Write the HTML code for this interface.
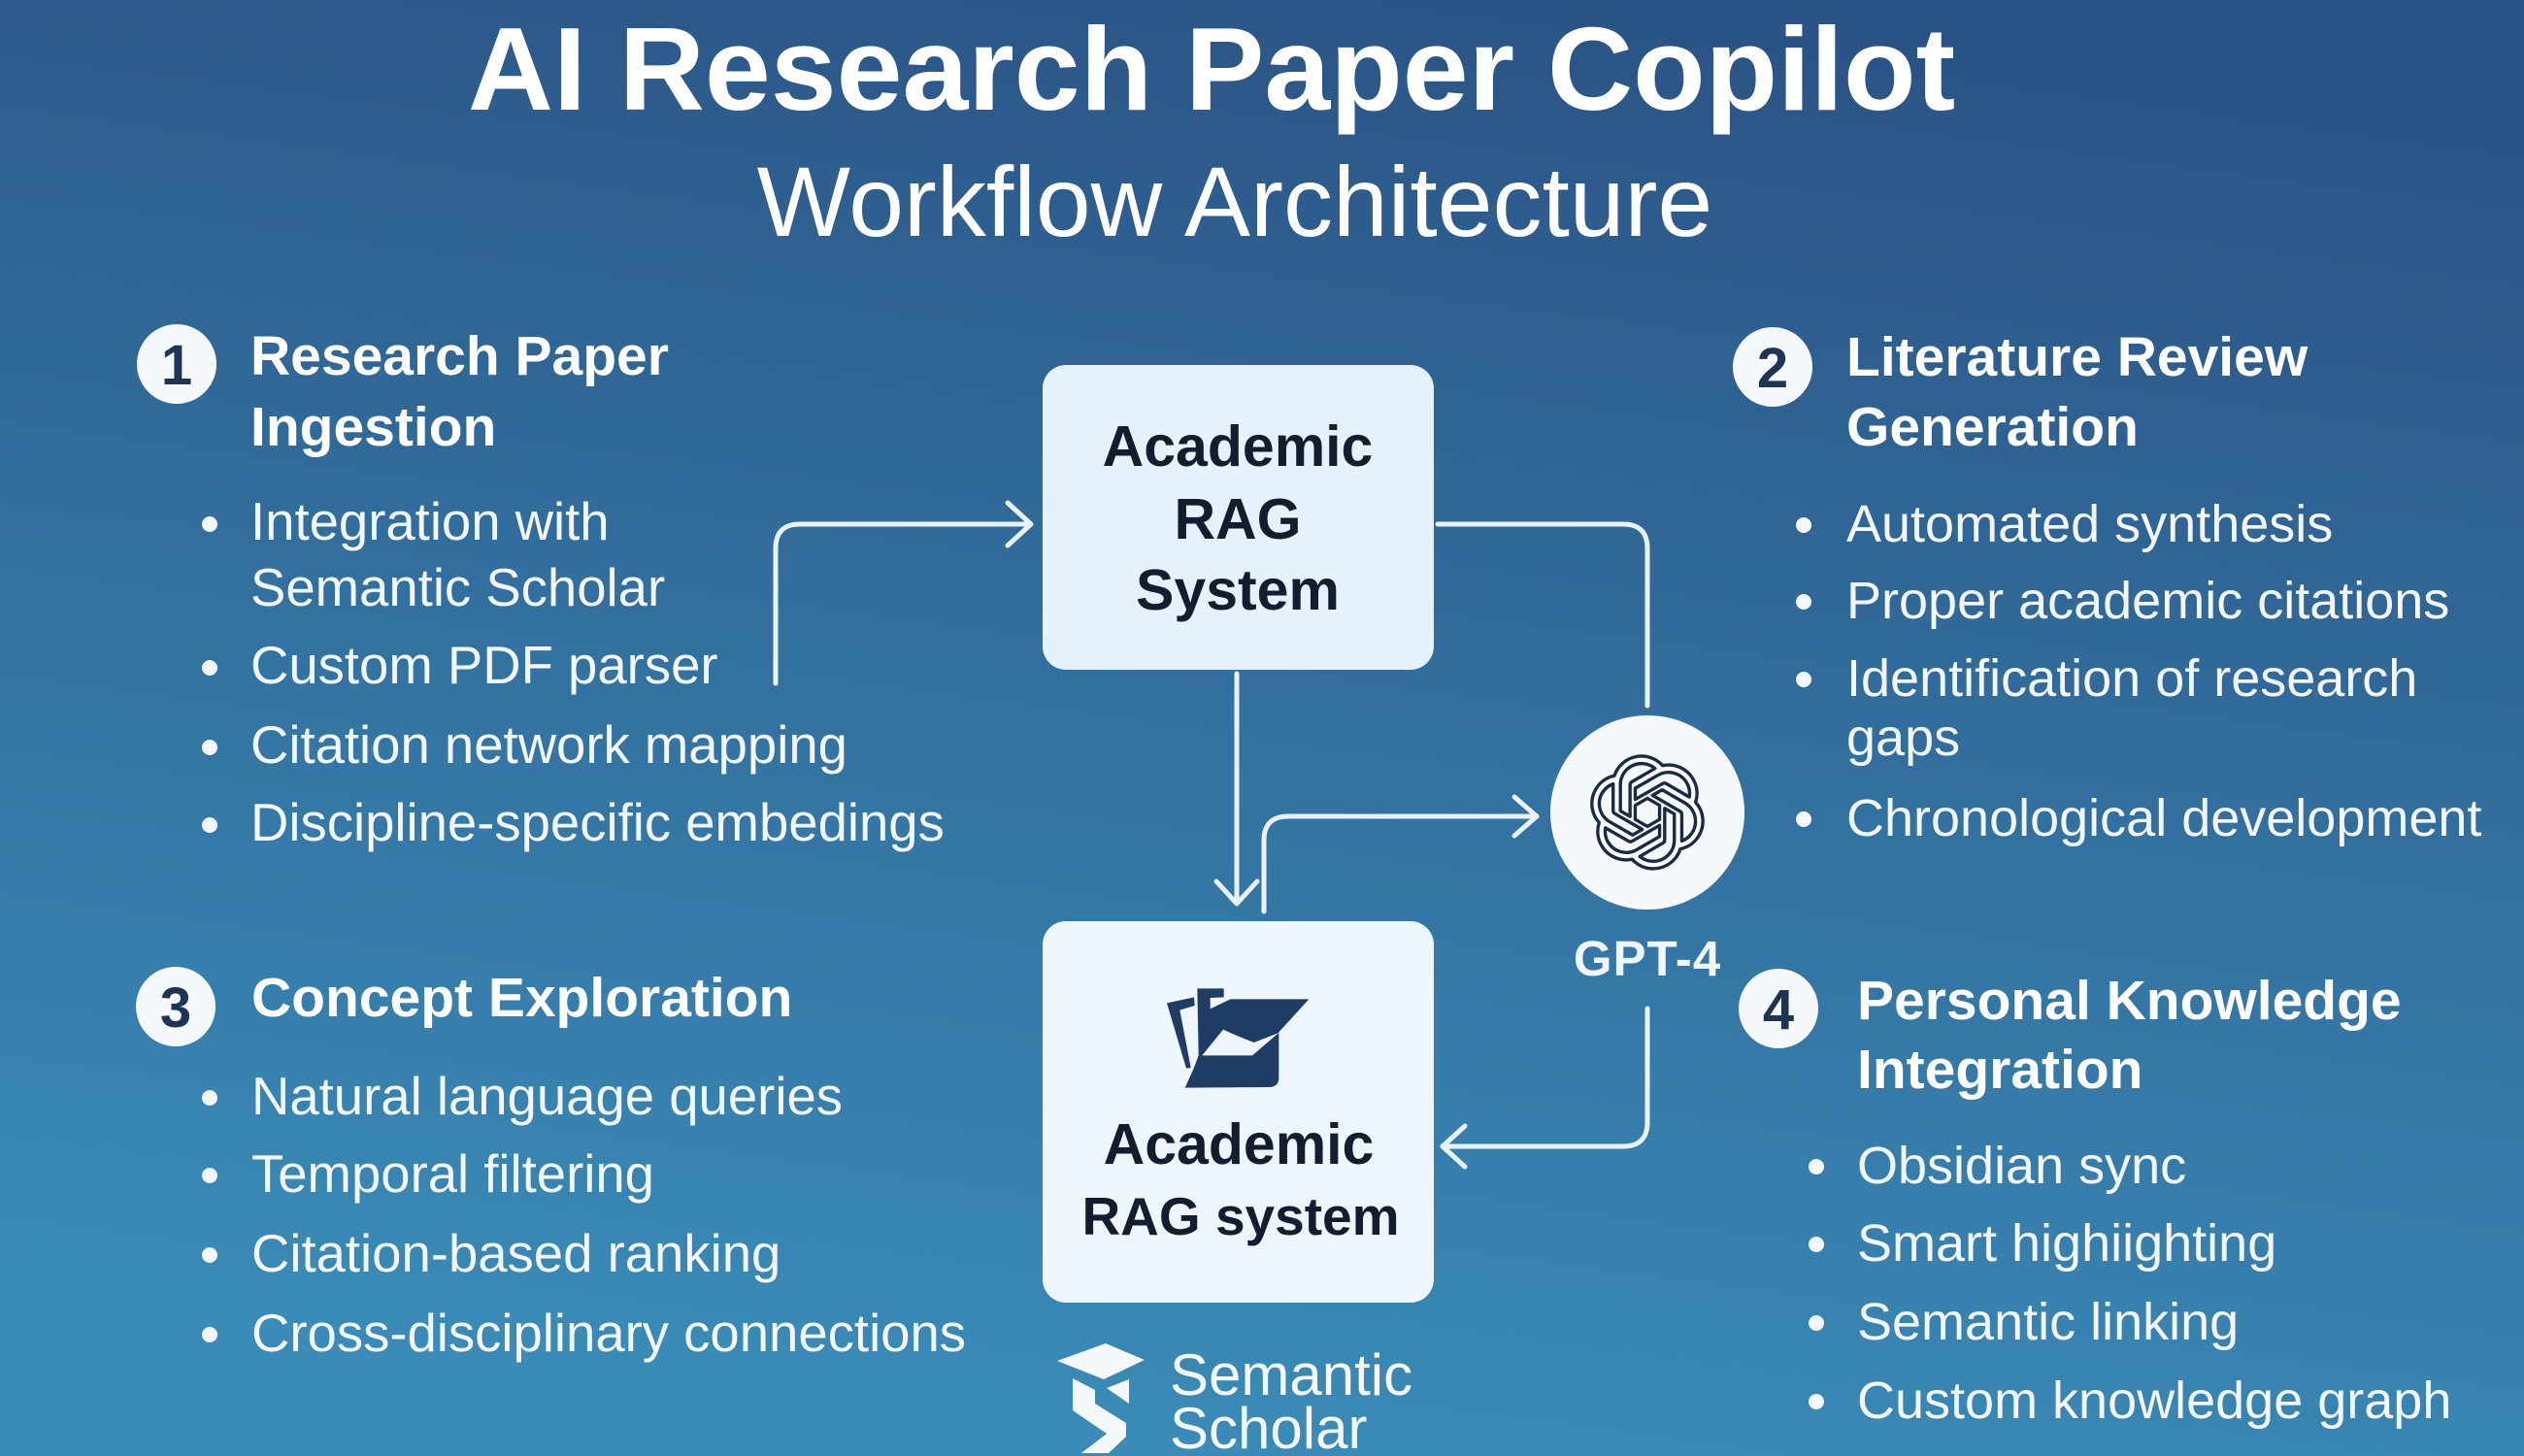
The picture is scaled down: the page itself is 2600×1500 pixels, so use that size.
<!DOCTYPE html>
<html>
<head>
<meta charset="utf-8">
<style>
  html, body { margin: 0; padding: 0; }
  body { width: 2600px; height: 1500px; overflow: hidden; }
  svg { display: block; }
  text { font-family: "Liberation Sans", "DejaVu Sans", sans-serif; }
</style>
</head>
<body>
<svg width="2600" height="1500" viewBox="0 0 2600 1500" xmlns="http://www.w3.org/2000/svg">
  <defs>
    <linearGradient id="bg" gradientUnits="userSpaceOnUse" x1="1500" y1="0" x2="1300" y2="1500">
      <stop offset="0" stop-color="#2b5486"/>
      <stop offset="0.5" stop-color="#32709f"/>
      <stop offset="1" stop-color="#3a8bb7"/>
    </linearGradient>
  </defs>
  <rect x="0" y="0" width="2600" height="1500" fill="url(#bg)"/>

  <!-- Title -->
  <text x="1248" y="113" text-anchor="middle" font-size="122" font-weight="bold" fill="#ffffff">AI Research Paper Copilot</text>
  <text x="1272" y="243" text-anchor="middle" font-size="102" fill="#ffffff">Workflow Architecture</text>

  <!-- Connectors -->
  <g fill="none" stroke="#eaf2f9" stroke-width="5" stroke-linecap="round" stroke-linejoin="round">
    <path d="M799,704 V565 Q799,540 824,540 H1061"/>
    <path d="M1038,518 L1062,540 L1038,562"/>
    <path d="M1481,540 H1672 Q1697,540 1697,565 V727"/>
    <path d="M1274,694 V930"/>
    <path d="M1253,908 L1274,931 L1295,908"/>
    <path d="M1302,939 V866 Q1302,841 1327,841 H1583"/>
    <path d="M1560,821 L1583,841 L1560,861"/>
    <path d="M1697,1039 V1156 Q1697,1181 1672,1181 H1486"/>
    <path d="M1509,1160 L1486,1181 L1509,1202"/>
  </g>

  <!-- Section 1 -->
  <circle cx="182" cy="375" r="41" fill="#f6f9fc"/>
  <text x="182" y="396" text-anchor="middle" font-size="58" font-weight="bold" fill="#1d3455">1</text>
  <g font-size="57" font-weight="bold" fill="#ffffff">
    <text x="258" y="386">Research Paper</text>
    <text x="258" y="459">Ingestion</text>
  </g>
  <g font-size="54.5" fill="#f3f7fb">
    <text x="258" y="556">Integration with</text>
    <text x="258" y="624">Semantic Scholar</text>
    <text x="258" y="704">Custom PDF parser</text>
    <text x="258" y="786">Citation network mapping</text>
    <text x="258" y="866">Discipline-specific embedings</text>
  </g>
  <g fill="#f3f7fb">
    <circle cx="216" cy="540" r="8"/>
    <circle cx="216" cy="688" r="8"/>
    <circle cx="216" cy="770" r="8"/>
    <circle cx="216" cy="850" r="8"/>
  </g>

  <!-- Section 2 -->
  <circle cx="1826" cy="378" r="41" fill="#f6f9fc"/>
  <text x="1826" y="399" text-anchor="middle" font-size="58" font-weight="bold" fill="#1d3455">2</text>
  <g font-size="57" font-weight="bold" fill="#ffffff">
    <text x="1902" y="387">Literature Review</text>
    <text x="1902" y="459">Generation</text>
  </g>
  <g font-size="54" fill="#f3f7fb">
    <text x="1902" y="558">Automated synthesis</text>
    <text x="1902" y="637">Proper academic citations</text>
    <text x="1902" y="717">Identification of research</text>
    <text x="1902" y="778">gaps</text>
    <text x="1902" y="861">Chronological development</text>
  </g>
  <g fill="#f3f7fb">
    <circle cx="1858" cy="541" r="8"/>
    <circle cx="1858" cy="620" r="8"/>
    <circle cx="1858" cy="700" r="8"/>
    <circle cx="1858" cy="844" r="8"/>
  </g>

  <!-- Section 3 -->
  <circle cx="181" cy="1037" r="41" fill="#f6f9fc"/>
  <text x="181" y="1058" text-anchor="middle" font-size="58" font-weight="bold" fill="#1d3455">3</text>
  <text x="259" y="1047" font-size="57" font-weight="bold" fill="#ffffff">Concept Exploration</text>
  <g font-size="54.5" fill="#f3f7fb">
    <text x="259" y="1148">Natural language queries</text>
    <text x="259" y="1228">Temporal filtering</text>
    <text x="259" y="1310">Citation-based ranking</text>
    <text x="259" y="1392">Cross-disciplinary connections</text>
  </g>
  <g fill="#f3f7fb">
    <circle cx="216" cy="1131" r="8"/>
    <circle cx="216" cy="1211" r="8"/>
    <circle cx="216" cy="1293" r="8"/>
    <circle cx="216" cy="1375" r="8"/>
  </g>

  <!-- Section 4 -->
  <circle cx="1832" cy="1039" r="41" fill="#f6f9fc"/>
  <text x="1832" y="1060" text-anchor="middle" font-size="58" font-weight="bold" fill="#1d3455">4</text>
  <g font-size="57" font-weight="bold" fill="#ffffff">
    <text x="1913" y="1050">Personal Knowledge</text>
    <text x="1913" y="1121">Integration</text>
  </g>
  <g font-size="54" fill="#f3f7fb">
    <text x="1913" y="1219">Obsidian sync</text>
    <text x="1913" y="1299">Smart highiighting</text>
    <text x="1913" y="1380">Semantic linking</text>
    <text x="1913" y="1461">Custom knowledge graph</text>
  </g>
  <g fill="#f3f7fb">
    <circle cx="1871" cy="1202" r="8"/>
    <circle cx="1871" cy="1282" r="8"/>
    <circle cx="1871" cy="1363" r="8"/>
    <circle cx="1871" cy="1444" r="8"/>
  </g>

  <!-- Top box -->
  <rect x="1074" y="376" width="403" height="314" rx="24" fill="#e4f2fb"/>
  <g font-size="59" font-weight="bold" fill="#121e30" text-anchor="middle">
    <text x="1275" y="480">Academic</text>
    <text x="1275" y="555">RAG</text>
    <text x="1275" y="628">System</text>
  </g>

  <!-- Bottom box -->
  <rect x="1074" y="949" width="403" height="393" rx="24" fill="#eef5fb"/>
  <g transform="translate(1180,1000) scale(0.3333)" fill="#1f3d64">
    <polygon points="66,100 150,82 152,108 106,122 140,300 126,302"/>
    <path d="M160,55 L242,55 L242,82 L200,84 L200,118 L262,88 L505,88 L412,190 L412,330 Q412,358 385,360 L122,362 L150,300 L164,262 Z"/>
    <path d="M175,262 L240,182 Q290,205 335,222 L412,192 L330,262 Z" fill="#eef5fb"/>
  </g>
  <g font-weight="bold" fill="#121e30" text-anchor="middle">
    <text x="1276" y="1199" font-size="59">Academic</text>
    <text x="1278" y="1272" font-size="55">RAG system</text>
  </g>

  <!-- GPT-4 -->
  <circle cx="1697" cy="837" r="100" fill="#f6f9fc"/>
  <g transform="translate(1639,779) scale(4.83)">
    <path fill="#ffffff" stroke="#1a2a44" stroke-width="0.7" stroke-linejoin="round" d="M22.2819 9.8211a5.9847 5.9847 0 0 0-.5157-4.9108 6.0462 6.0462 0 0 0-6.5098-2.9A6.0651 6.0651 0 0 0 4.9807 4.1818a5.9847 5.9847 0 0 0-3.9977 2.9 6.0462 6.0462 0 0 0 .7427 7.0966 5.98 5.98 0 0 0 .511 4.9107 6.051 6.051 0 0 0 6.5146 2.9001A5.9847 5.9847 0 0 0 13.2599 24a6.0557 6.0557 0 0 0 5.7718-4.2058 5.9894 5.9894 0 0 0 3.9977-2.9001 6.0557 6.0557 0 0 0-.7475-7.0729zm-9.022 12.6081a4.4755 4.4755 0 0 1-2.8764-1.0408l.1419-.0804 4.7783-2.7582a.7948.7948 0 0 0 .3927-.6813v-6.7369l2.02 1.1686a.071.071 0 0 1 .038.052v5.5826a4.504 4.504 0 0 1-4.4945 4.4944zm-9.6607-4.1254a4.4708 4.4708 0 0 1-.5346-3.0137l.142.0852 4.783 2.7582a.7712.7712 0 0 0 .7806 0l5.8428-3.3685v2.3324a.0804.0804 0 0 1-.0332.0615L9.74 19.9502a4.4992 4.4992 0 0 1-6.1408-1.6464zM2.3408 7.8956a4.485 4.485 0 0 1 2.3655-1.9728V11.6a.7664.7664 0 0 0 .3879.6765l5.8144 3.3543-2.0201 1.1685a.0757.0757 0 0 1-.071 0l-4.8303-2.7865A4.504 4.504 0 0 1 2.3408 7.872zm16.5963 3.8558L13.1038 8.364 15.1192 7.2a.0757.0757 0 0 1 .071 0l4.8303 2.7913a4.4944 4.4944 0 0 1-.6765 8.1042v-5.6772a.79.79 0 0 0-.407-.667zm2.0107-3.0231l-.142-.0852-4.7735-2.7818a.7759.7759 0 0 0-.7854 0L9.409 9.2297V6.8974a.0662.0662 0 0 1 .0284-.0615l4.8303-2.7866a4.4992 4.4992 0 0 1 6.6802 4.66zM8.3065 12.863l-2.02-1.1638a.0804.0804 0 0 1-.038-.0567V6.0742a4.4992 4.4992 0 0 1 7.3757-3.4537l-.142.0805L8.704 5.459a.7948.7948 0 0 0-.3927.6813zm1.0976-2.3654l2.602-1.4998 2.6069 1.4998v2.9994l-2.5974 1.4997-2.6067-1.4997Z"/>
  </g>
  <text x="1697" y="1005" text-anchor="middle" font-size="51" font-weight="bold" fill="#f0f6fb" letter-spacing="1">GPT-4</text>

  <!-- Semantic Scholar -->
  <g fill="#f4f8fb">
    <polygon points="1089,1402 1139,1384 1179,1401 1137,1421"/>
    <path d="M1105,1420 L1128,1432 L1128,1446 L1160,1466 L1160,1480 L1142,1497 L1114,1497 L1140,1477 L1105,1453 Z"/>
    <polygon points="1140,1430 1163,1421 1163,1446"/>
  </g>
  <g font-size="60" fill="#f4f8fb">
    <text x="1205" y="1437">Semantic</text>
    <text x="1205" y="1492">Scholar</text>
  </g>
</svg>
</body>
</html>
